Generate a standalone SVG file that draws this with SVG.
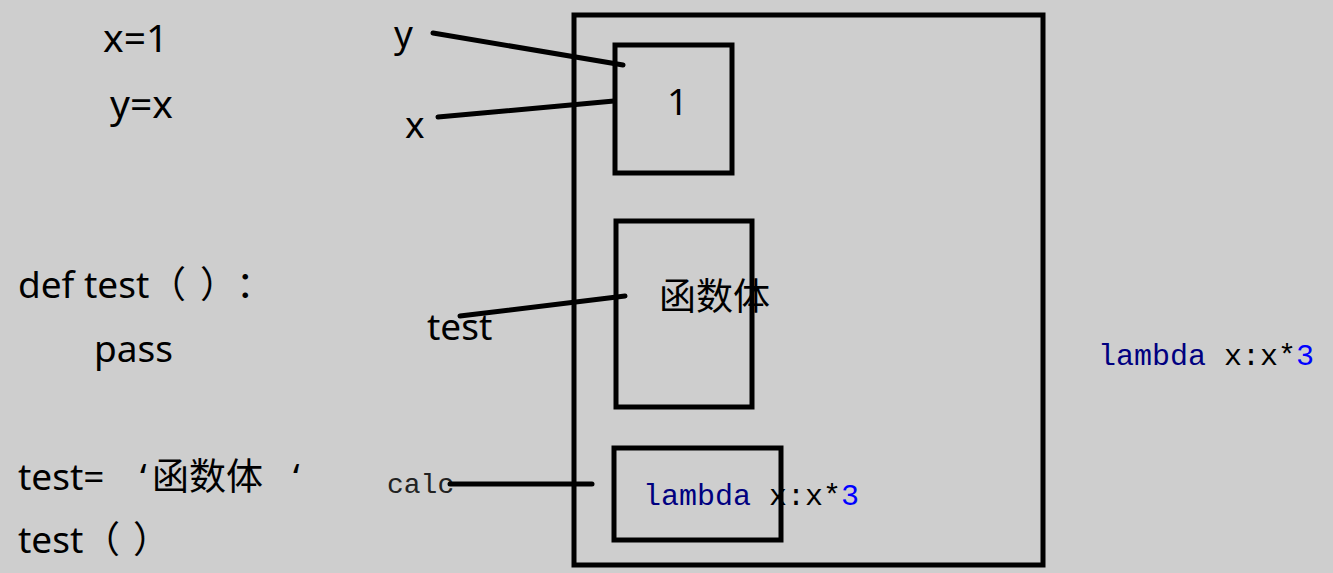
<svg xmlns="http://www.w3.org/2000/svg" width="1333" height="573" viewBox="0 0 1333 573">
<style>
.t{font-family:"Noto Sans","Noto Sans CJK SC",sans-serif;font-size:37px;fill:#000}
.m{font-family:"Liberation Mono","Noto Sans CJK SC",monospace;font-size:30px;fill:#000}
.box{fill:none;stroke:#000;stroke-width:5}
.ln{stroke:#000;stroke-width:5;stroke-linecap:round;fill:none}
</style>
<rect width="1333" height="573" fill="#cecece"/>
<g id="code">
<text class="t" x="103" y="52" style="font-size:39px">x=1</text>
<text class="t" x="110" y="118" style="font-size:39px">y=x</text>
<text class="t" x="18" y="298">def test<tspan x="149">（</tspan><tspan x="200">）</tspan><tspan x="236">：</tspan></text>
<text class="t" x="94" y="362">pass</text>
<text class="t" x="18" y="490">test=<tspan x="140">‘</tspan><tspan x="152">函数体</tspan><tspan x="293">‘</tspan></text>
<text class="t" x="18" y="553">test<tspan x="83">（</tspan><tspan x="133">）</tspan></text>
</g>
<g id="memory">
<rect class="box" x="574" y="15" width="469" height="550"/>
</g>
<g id="box1">
<rect class="box" x="615" y="45" width="117" height="128"/>
<text class="t" x="667" y="115">1</text>
</g>
<g id="boxfunc">
<rect class="box" x="616" y="221" width="136" height="186"/>
<text class="t" x="659" y="310">函数体</text>
</g>
<g id="boxlambda">
<rect class="box" x="614" y="448" width="167" height="92"/>
<text class="m" x="643" y="505"><tspan fill="#000080">lambda</tspan> x:x*<tspan fill="#0000ff">3</tspan></text>
</g>
<g id="names">
<text class="t" x="394" y="47">y</text>
<text class="t" x="405" y="138">x</text>
<text class="t" x="427" y="340">test</text>
<text class="m" x="387" y="493" style="font-size:28px;fill:#222">calc</text>
</g>
<g id="connectors">
<line class="ln" x1="433" y1="33" x2="623" y2="65"/>
<line class="ln" x1="438" y1="117" x2="614" y2="101"/>
<line class="ln" x1="460" y1="316" x2="625" y2="296"/>
<line class="ln" x1="450" y1="484" x2="592" y2="484"/>
</g>
<g id="lambda-right">
<text class="m" x="1098" y="365"><tspan fill="#000080">lambda</tspan> x:x*<tspan fill="#0000ff">3</tspan></text>
</g>
</svg>
